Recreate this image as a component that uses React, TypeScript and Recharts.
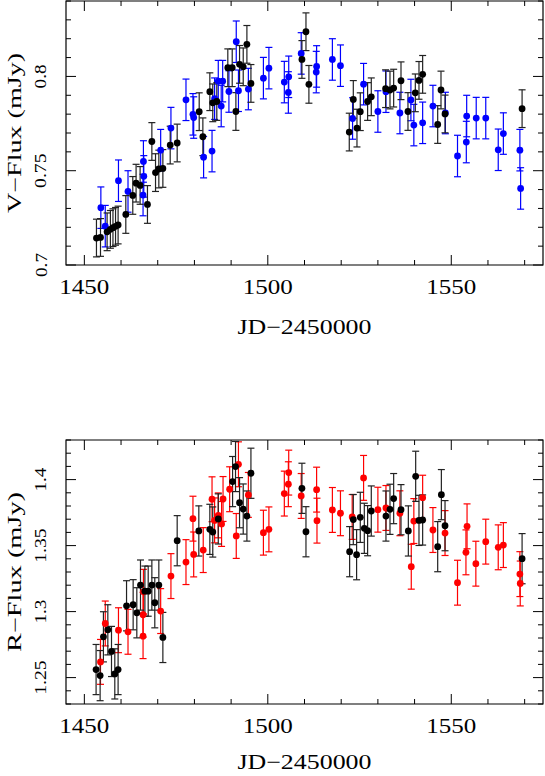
import { ScatterChart, Scatter, XAxis, YAxis, ErrorBar, ReferenceArea } from 'recharts'

// [JD-2450000, flux] pairs
const V_BLACK: [number, number][] = [
  [1453.3, 0.7143], [1454.4, 0.7146], [1456.2, 0.7176], [1457.1, 0.7189], [1457.8, 0.7198],
  [1458.5, 0.7205], [1459.2, 0.7212], [1461.3, 0.7268], [1463.2, 0.7369], [1464.1, 0.7434],
  [1465.2, 0.7422], [1467.2, 0.7321], [1468.4, 0.7655], [1469.4, 0.749], [1470.3, 0.7509],
  [1471.4, 0.7512], [1473.4, 0.7636], [1475.3, 0.7647], [1481.3, 0.7813], [1482.3, 0.768],
  [1484.2, 0.7919], [1485.0, 0.786], [1486.1, 0.7867], [1489.1, 0.8046], [1490.3, 0.8046],
  [1491.3, 0.7814], [1492.3, 0.8064], [1493.3, 0.8051], [1494.3, 0.817], [1495.4, 0.7963],
  [1509.3, 0.809], [1510.4, 0.8237], [1511.2, 0.7958], [1522.2, 0.7705], [1523.3, 0.7878],
  [1524.3, 0.7726], [1525.2, 0.7813], [1527.2, 0.7867], [1528.2, 0.7892], [1532.1, 0.7935],
  [1533.3, 0.7928], [1534.3, 0.7938], [1536.3, 0.7977], [1538.2, 0.7814], [1540.2, 0.7913],
  [1541.2, 0.7979], [1542.2, 0.8011], [1546.3, 0.7745], [1547.2, 0.7928], [1548.3, 0.7801],
  [1569.3, 0.7829],
]

const V_BLUE: [number, number][] = [
  [1454.5, 0.7304], [1455.7, 0.7206], [1459.3, 0.7447], [1461.9, 0.739], [1466.0, 0.7371],
  [1466.1, 0.7549], [1466.2, 0.747], [1470.8, 0.7609], [1473.6, 0.7726], [1477.7, 0.7876],
  [1479.6, 0.7799], [1479.8, 0.7782], [1482.5, 0.7572], [1484.8, 0.7604], [1485.5, 0.7882],
  [1486.5, 0.7975], [1487.3, 0.7843], [1487.7, 0.7975], [1489.4, 0.792], [1491.4, 0.8184],
  [1492.0, 0.7924], [1494.7, 0.7933], [1498.8, 0.7991], [1500.3, 0.8044], [1504.5, 0.797],
  [1505.6, 0.7915], [1505.7, 0.7998], [1509.1, 0.8122], [1513.2, 0.8023], [1513.3, 0.8053],
  [1517.6, 0.809], [1519.8, 0.8057], [1523.1, 0.7777], [1526.1, 0.7959], [1530.0, 0.7814],
  [1532.2, 0.7919], [1536.0, 0.7806], [1539.0, 0.7875], [1539.8, 0.7742], [1542.2, 0.7754],
  [1545.0, 0.7843], [1548.4, 0.7806], [1551.7, 0.7578], [1554.1, 0.7652], [1554.2, 0.779],
  [1556.8, 0.7779], [1559.4, 0.7779], [1562.8, 0.7611], [1564.2, 0.7697], [1568.7, 0.7609],
  [1568.9, 0.7406],
]

const R_BLACK: [number, number][] = [
  [1453.2, 1.2561], [1454.3, 1.2515], [1455.2, 1.2809], [1456.4, 1.2862], [1457.4, 1.2698],
  [1458.3, 1.2528], [1459.2, 1.2561], [1461.5, 1.3044], [1463.3, 1.3052], [1464.3, 1.2991],
  [1465.3, 1.3201], [1466.5, 1.3155], [1467.4, 1.3155], [1468.4, 1.3201], [1469.2, 1.3067],
  [1470.3, 1.3201], [1471.4, 1.2804], [1475.3, 1.3537], [1481.2, 1.3611], [1484.2, 1.3623],
  [1485.0, 1.3603], [1486.5, 1.3702], [1490.4, 1.3985], [1491.2, 1.4099], [1492.3, 1.3825],
  [1493.3, 1.3777], [1494.3, 1.3724], [1495.4, 1.4048], [1509.3, 1.3934], [1510.4, 1.3605],
  [1522.3, 1.3454], [1523.3, 1.3697], [1524.2, 1.3431], [1525.2, 1.3714], [1526.3, 1.3631],
  [1527.2, 1.3613], [1528.2, 1.3762], [1532.2, 1.3724], [1533.3, 1.3775], [1534.3, 1.3856],
  [1536.3, 1.3772], [1538.3, 1.3611], [1540.3, 1.4025], [1541.2, 1.3691], [1542.2, 1.3694],
  [1546.3, 1.3492], [1547.3, 1.3886], [1548.3, 1.3651], [1569.3, 1.3401],
]

const R_RED: [number, number][] = [
  [1454.4, 1.2619], [1455.7, 1.291], [1459.3, 1.2859], [1461.9, 1.2847], [1466.0, 1.2976],
  [1466.0, 1.2814], [1466.1, 1.315], [1470.8, 1.3004], [1473.6, 1.3269], [1477.7, 1.3375],
  [1479.6, 1.3704], [1479.8, 1.3433], [1482.4, 1.3466], [1484.8, 1.3851], [1485.5, 1.3691],
  [1486.5, 1.3729], [1487.4, 1.3664], [1487.8, 1.3853], [1489.6, 1.3927], [1491.4, 1.3573],
  [1492.0, 1.4116], [1494.7, 1.3884], [1498.8, 1.3598], [1500.3, 1.3623], [1504.5, 1.3894],
  [1505.6, 1.3965], [1505.7, 1.4053], [1509.1, 1.3876], [1513.3, 1.3924], [1513.4, 1.3689],
  [1517.6, 1.377], [1519.8, 1.3745], [1523.0, 1.3717], [1526.1, 1.4013], [1530.0, 1.3772],
  [1532.2, 1.3785], [1536.0, 1.3745], [1539.1, 1.334], [1539.8, 1.3686], [1542.2, 1.3863],
  [1545.0, 1.3618], [1548.3, 1.3595], [1551.7, 1.3219], [1554.0, 1.3449], [1554.3, 1.3646],
  [1556.7, 1.3363], [1559.4, 1.353], [1562.8, 1.3487], [1564.2, 1.3504], [1568.7, 1.3284],
  [1568.8, 1.3213],
]

// one-sigma error per series
const V_BLACK_ERR = 0.010
const V_BLUE_ERR = 0.011
const R_BLACK_ERR = 0.019
const R_RED_ERR = 0.017

const JD_DOMAIN: [number, number] = [1445, 1575]
const JD_TICKS = [1450, 1460, 1470, 1480, 1490, 1500, 1510, 1520, 1530, 1540, 1550, 1560, 1570]
const JD_LABELS = [1450, 1500, 1550]

const V_DOMAIN: [number, number] = [0.7, 0.84]
const V_TICKS = [0.7, 0.71, 0.72, 0.73, 0.74, 0.75, 0.76, 0.77, 0.78, 0.79, 0.8, 0.81, 0.82, 0.83, 0.84]
const V_LABELS = ['0.7', '0.75', '0.8']

const R_DOMAIN: [number, number] = [1.23, 1.43]
const R_TICKS = [
  1.23, 1.24, 1.25, 1.26, 1.27, 1.28, 1.29, 1.3, 1.31, 1.32, 1.33, 1.34, 1.35, 1.36, 1.37,
  1.38, 1.39, 1.4, 1.41, 1.42, 1.43,
]
const R_LABELS = ['1.25', '1.3', '1.35', '1.4']

const FONT = '"Liberation Serif", "Times New Roman", serif'
const W = 545
const Y_AXIS_W = 66
const RIGHT = 2
const PLOT_W = W - Y_AXIS_W - RIGHT
const PLOT_H = 264
const INK = '#000'

const toRows = (pts: [number, number][], err: number) =>
  pts.map(([jd, flux]) => ({ jd, flux, err }))

const isLabel = (v: number, labels: (string | number)[]) =>
  labels.some((l) => Math.abs(Number(l) - v) < 1e-6)

const fmt = (v: number) => String(Math.round(v * 100) / 100)

const JdTick = (props: any) => {
  const { x, y, payload } = props
  const v = payload.value
  const major = isLabel(v, JD_LABELS)
  const len = major ? 10 : 5
  const top = y - PLOT_H
  return (
    <g>
      <line x1={x} y1={y} x2={x} y2={y - len} stroke={INK} />
      <line x1={x} y1={top} x2={x} y2={top + len} stroke={INK} />
      {major && (
        <text
          x={x}
          y={y + 29}
          textAnchor="middle"
          fontFamily={FONT}
          fontSize={21.5}
          textLength={50}
          lengthAdjust="spacingAndGlyphs"
          fill={INK}
        >
          {v}
        </text>
      )}
    </g>
  )
}

const makeFluxTick = (labels: string[]) => (props: any) => {
  const { x, y, payload } = props
  const v = payload.value
  const major = isLabel(v, labels)
  const len = major ? 10 : 5
  const right = x + PLOT_W
  const text = fmt(v)
  const digits = text.replace('.', '').length
  const tx = x - 19.5
  return (
    <g>
      <line x1={x} y1={y} x2={x + len} y2={y} stroke={INK} />
      <line x1={right} y1={y} x2={right - len} y2={y} stroke={INK} />
      {major && (
        <text
          x={tx}
          y={y}
          transform={`rotate(-90 ${tx} ${y})`}
          textAnchor="middle"
          fontFamily={FONT}
          fontSize={17.5}
          textLength={digits * 10.5 + 3}
          lengthAdjust="spacingAndGlyphs"
          fill={INK}
        >
          {text}
        </text>
      )}
    </g>
  )
}

const dot = (color: string) => (p: any) => <circle cx={p.cx} cy={p.cy} r={3.4} fill={color} />

interface PanelProps {
  top: number
  height: number
  marginTop: number
  xAxisH: number
  titleGap: number
  yDomain: [number, number]
  yTicks: number[]
  yLabels: string[]
  title: string
  black: [number, number][]
  blackErr: number
  colored: [number, number][]
  coloredErr: number
  color: string
}

const Panel = ({
  top, height, marginTop, xAxisH, titleGap, yDomain, yTicks, yLabels, title,
  black, blackErr, colored, coloredErr, color,
}: PanelProps) => {
  const midY = marginTop + PLOT_H / 2
  const midX = Y_AXIS_W + PLOT_W / 2
  return (
    <div style={{ position: 'absolute', left: 0, top }}>
      <ScatterChart
        width={W}
        height={height}
        margin={{ top: marginTop, right: RIGHT, bottom: 0, left: 0 }}
      >
        <XAxis
          type="number"
          dataKey="jd"
          domain={JD_DOMAIN}
          ticks={JD_TICKS}
          interval={0}
          allowDataOverflow
          height={xAxisH}
          axisLine={false}
          tickLine={false}
          tickSize={0}
          tickMargin={0}
          tick={JdTick}
          label={{
            content: () => (
              <text
                x={midX}
                y={marginTop + PLOT_H + titleGap}
                textAnchor="middle"
                fontFamily={FONT}
                fontSize={21}
                textLength={134}
                lengthAdjust="spacingAndGlyphs"
                fill={INK}
              >
                JD−2450000
              </text>
            ),
          }}
        />
        <YAxis
          type="number"
          dataKey="flux"
          domain={yDomain}
          ticks={yTicks}
          interval={0}
          allowDataOverflow
          width={Y_AXIS_W}
          axisLine={false}
          tickLine={false}
          tickSize={0}
          tickMargin={0}
          tick={makeFluxTick(yLabels)}
          label={{
            content: () => (
              <text
                x={20.5}
                y={midY}
                transform={`rotate(-90 20.5 ${midY})`}
                textAnchor="middle"
                fontFamily={FONT}
                fontSize={18}
                textLength={160}
                lengthAdjust="spacingAndGlyphs"
                fill={INK}
              >
                {title}
              </text>
            ),
          }}
        />
        <ReferenceArea
          x1={JD_DOMAIN[0]}
          x2={JD_DOMAIN[1]}
          y1={yDomain[0]}
          y2={yDomain[1]}
          fill="none"
          stroke={INK}
          strokeWidth={1.2}
        />
        <Scatter data={toRows(colored, coloredErr)} fill={color} shape={dot(color)} isAnimationActive={false}>
          <ErrorBar dataKey="err" direction="y" width={3.5} stroke={color} strokeWidth={1.2} />
        </Scatter>
        <Scatter data={toRows(black, blackErr)} fill={INK} shape={dot(INK)} isAnimationActive={false}>
          <ErrorBar dataKey="err" direction="y" width={3.5} stroke="#222" strokeWidth={1.2} />
        </Scatter>
      </ScatterChart>
    </div>
  )
}

export default function App() {
  return (
    <div style={{ position: 'absolute', left: 0, top: 0, width: W, height: 776, background: '#fff' }}>
      <Panel
        top={0}
        height={345}
        marginTop={1}
        xAxisH={80}
        titleGap={69}
        yDomain={V_DOMAIN}
        yTicks={V_TICKS}
        yLabels={V_LABELS}
        title="V−Flux (mJy)"
        black={V_BLACK}
        blackErr={V_BLACK_ERR}
        colored={V_BLUE}
        coloredErr={V_BLUE_ERR}
        color="#0000ff"
      />
      <Panel
        top={345}
        height={431}
        marginTop={95}
        xAxisH={72}
        titleGap={65}
        yDomain={R_DOMAIN}
        yTicks={R_TICKS}
        yLabels={R_LABELS}
        title="R−Flux (mJy)"
        black={R_BLACK}
        blackErr={R_BLACK_ERR}
        colored={R_RED}
        coloredErr={R_RED_ERR}
        color="#ff0000"
      />
    </div>
  )
}
